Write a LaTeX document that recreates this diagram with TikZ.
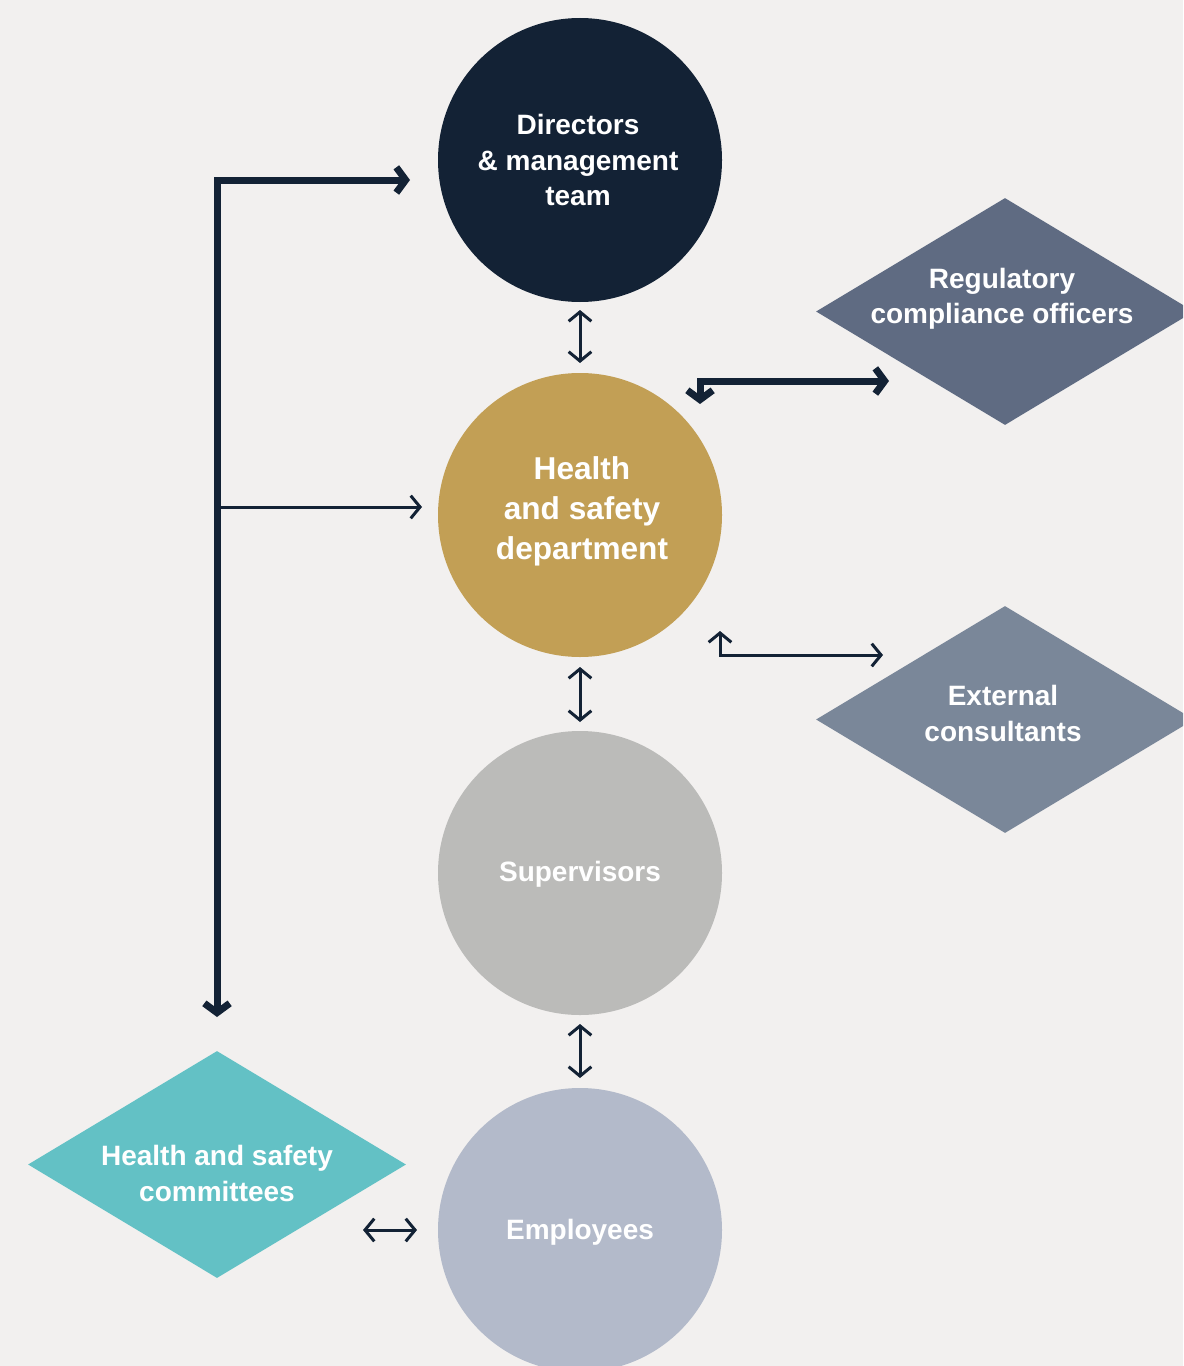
\documentclass[tikz,border=0pt]{standalone}
\usepackage{fontspec}
\setmainfont{Liberation Sans}
\usetikzlibrary{arrows.meta,shapes.geometric}
\definecolor{bg}{HTML}{F2F0EF}
\definecolor{navy}{HTML}{132235}
\definecolor{gold}{HTML}{C29F55}
\definecolor{greyc}{HTML}{BBBBB9}
\definecolor{lilac}{HTML}{B3BACA}
\definecolor{slate}{HTML}{5F6B82}
\definecolor{slatel}{HTML}{7A8799}
\definecolor{teal}{HTML}{63C1C5}
\begin{document}
\begin{tikzpicture}[x=0.75pt,y=-0.75pt,
  circ/.style={circle,minimum size=213pt,inner sep=0pt},
  diam/.style={diamond,minimum width=283.5pt,minimum height=170.25pt,inner sep=0pt},
  lbl/.style={text=white,align=center,font=\bfseries\fontsize{21}{26.6}\selectfont},
  biglbl/.style={text=white,align=center,font=\bfseries\fontsize{23.7}{30}\selectfont},
  thinline/.style={draw=navy,line width=2.25pt,
    >={Straight Barb[length=7pt,width=17pt]}},
  thickline/.style={draw=navy,line width=5.25pt,
    >={Straight Barb[length=7pt,width=19pt]}}]
\clip (0,0) rectangle (1183,1366);
\fill[bg] (0,0) rectangle (1183,1366);
% circles
\node[circ,fill=navy] (dirC) at (580,160) {};
\node[circ,fill=gold] (hsC) at (580,515) {};
\node[circ,fill=greyc] (supC) at (580,873) {};
\node[circ,fill=lilac] (empC) at (580,1230) {};
% diamonds
\node[diam,fill=slate] (regD) at (1005,311.5) {};
\node[diam,fill=slatel] (extD) at (1005,719.5) {};
\node[diam,fill=teal] (cmD) at (217,1164.5) {};
% labels
\node[lbl] (dir) at (578,160) {Directors\\\& management\\team};
\node[biglbl] (hs) at (582,511) {Health\\and safety\\department};
\node[lbl] (sup) at (580,874) {Supervisors};
\node[lbl] (emp) at (580,1232) {Employees};
\node[lbl] (reg) at (1002,299) {Regulatory\\compliance officers};
\node[lbl] (ext) at (1003,713.5) {External\\consultants};
\node[lbl] (cm) at (217,1173.5) {Health and safety\\committees};
% named connector ends
\coordinate (cmIn) at (217,1017);
\coordinate (dirIn) at (410,180);
\coordinate (branch) at (217,507);
\coordinate (hsIn) at (422,507);
\coordinate (hsR) at (700,404);
\coordinate (regIn) at (889,381);
\coordinate (hsE) at (720,631);
\coordinate (extIn) at (883,655);
\coordinate (d1) at (580,310);
\coordinate (h1) at (580,363);
\coordinate (h2) at (580,667);
\coordinate (s1) at (580,722);
\coordinate (s2) at (580,1024);
\coordinate (e1) at (580,1078);
\coordinate (cmR) at (363,1230);
\coordinate (eL) at (417,1230);
% connectors
\draw[thickline,<->] (cmIn) |- (dirIn);
\draw[thinline,->] (branch) -- (hsIn);
\draw[thickline,<->] (hsR) |- (regIn);
\draw[thinline,<->] (hsE) |- (extIn);
\draw[thinline,<->] (d1) -- (h1);
\draw[thinline,<->] (h2) -- (s1);
\draw[thinline,<->] (s2) -- (e1);
\draw[thinline,<->] (cmR) -- (eL);
\end{tikzpicture}
\end{document}
